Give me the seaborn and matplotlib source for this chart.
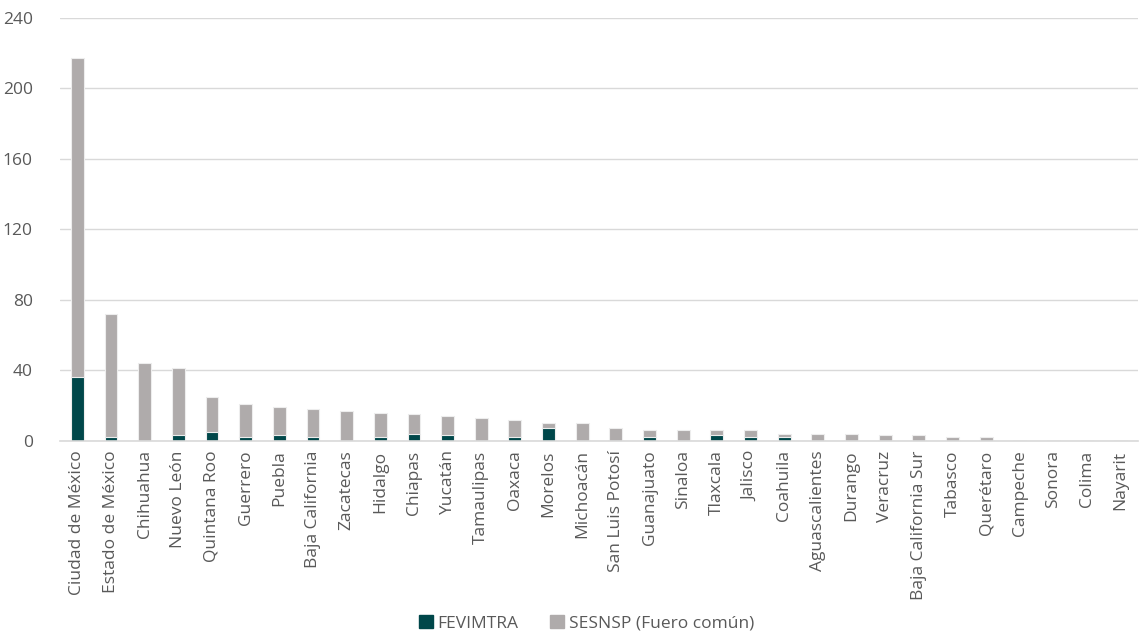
import matplotlib
matplotlib.use("Agg")
import matplotlib.pyplot as plt
import seaborn as sns
import pandas as pd
from matplotlib.patches import Patch

estados = ['Ciudad de México', 'Estado de México', 'Chihuahua', 'Nuevo León', 'Quintana Roo',
           'Guerrero', 'Puebla', 'Baja California', 'Zacatecas', 'Hidalgo', 'Chiapas', 'Yucatán',
           'Tamaulipas', 'Oaxaca', 'Morelos', 'Michoacán', 'San Luis Potosí', 'Guanajuato',
           'Sinaloa', 'Tlaxcala', 'Jalisco', 'Coahuila', 'Aguascalientes', 'Durango', 'Veracruz',
           'Baja California Sur', 'Tabasco', 'Querétaro', 'Campeche', 'Sonora', 'Colima', 'Nayarit']
fevimtra = [36, 2, 0, 3, 5, 2, 3, 2, 0, 2, 4, 3, 0, 2, 7, 0, 0, 2, 0, 3, 2, 2,
            0, 0, 0, 0, 0, 0, 0, 0, 0, 0]
sesnsp = [181, 70, 44, 38, 20, 19, 16, 16, 17, 14, 11, 11, 13, 10, 3, 10, 7, 4, 6, 3, 4, 2,
          4, 4, 3, 3, 2, 2, 0, 0, 0, 0]

verde = '#00474A'
gris = '#AFABAB'

df = pd.DataFrame({'estado': estados, 'FEVIMTRA': fevimtra, 'SESNSP': sesnsp})
df['total'] = df['FEVIMTRA'] + df['SESNSP']

sns.set_style('white')
plt.rcParams['font.family'] = ['Open Sans', 'DejaVu Sans']

fig = plt.figure(figsize=(11.41, 6.36), dpi=100)
ax = fig.add_axes([0.053, 0.307, 0.944, 0.665])

# apilado: primero el total en gris, encima la parte de FEVIMTRA
sns.barplot(data=df, x='estado', y='total', color=gris, width=0.38,
            edgecolor='#EDEDED', linewidth=0.8, saturation=1, ax=ax)
sns.barplot(data=df, x='estado', y='FEVIMTRA', color=verde, width=0.38,
            edgecolor='#EDEDED', linewidth=0.8, saturation=1, ax=ax)

ax.set_ylim(0, 240)
ax.set_yticks(range(0, 241, 40))
ax.set_xlim(-0.5, len(estados) - 0.5)
ax.yaxis.grid(True, color='#D9D9D9', linewidth=1)
ax.set_axisbelow(True)
for s in ['top', 'right', 'left']:
    ax.spines[s].set_visible(False)
ax.spines['bottom'].set_color('#D9D9D9')
ax.spines['bottom'].set_linewidth(1.2)
ax.set_xlabel('')
ax.set_ylabel('')
ax.tick_params(axis='x', rotation=90, labelsize=12.5, colors='#595959', length=0, pad=7)
ax.tick_params(axis='y', labelsize=12.5, colors='#595959', length=0, pad=20)

handles = [Patch(color=verde, label='FEVIMTRA'), Patch(color=gris, label='SESNSP (Fuero común)')]
fig.legend(handles=handles, loc='lower center', bbox_to_anchor=(0.514, -0.018), ncol=2,
           frameon=False, fontsize=12.5, handlelength=0.8, handleheight=0.8,
           handletextpad=0.3, columnspacing=1.8, labelcolor='#595959')

fig.savefig('out.png', dpi=100)
